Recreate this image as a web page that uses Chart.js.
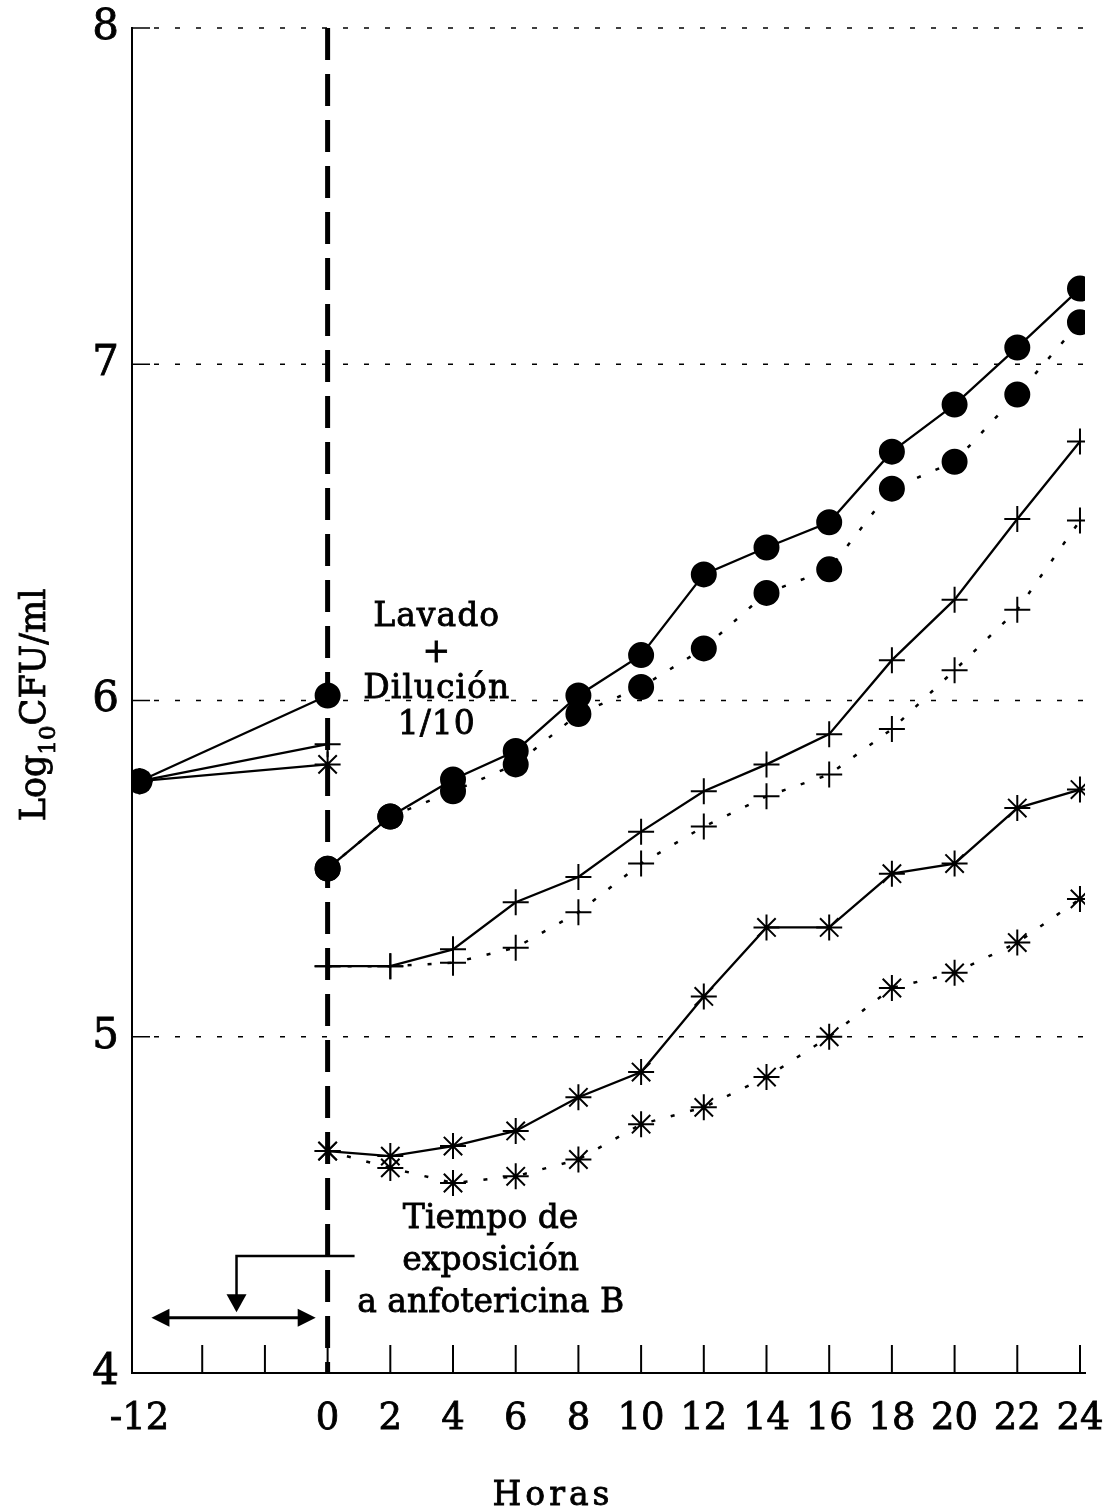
<!DOCTYPE html>
<html>
<head>
<meta charset="utf-8">
<script src="https://cdn.jsdelivr.net/npm/chart.js@4.4.0/dist/chart.umd.min.js"></script>
<style>
    html, body { margin: 0; padding: 0; background: #fff; }
</style>
</head>
<body>
<canvas id="chart" width="1108" height="1510"></canvas>
<script>
/* ==========================================================================
   資料
   ========================================================================== */

// x 軸刻度（-12 到 0 每格 4 小時，之後每格 2 小時）
const xTickLabels = ['-12', '', '', '0', '2', '4', '6', '8', '10', '12', '14', '16', '18', '20', '22', '24'];
const yTickValues = [4, 5, 6, 7, 8];
const yGridValues = [5, 6, 7, 8];

// 暴露期間（-12 到 0 小時）
const preHours = [-12, 0];
const circlePre = [5.76, 6.015];
const plusPre = [5.76, 5.87];
const starPre = [5.76, 5.81];

// 洗滌 + 稀釋之後（0 到 24 小時）
const postHours = [0, 2, 4, 6, 8, 10, 12, 14, 16, 18, 20, 22, 24];
const circleSolid = [5.50, 5.655, 5.765, 5.85, 6.015, 6.135, 6.375, 6.455, 6.53, 6.74, 6.88, 7.05, 7.225];
const circleDotted = [5.50, 5.655, 5.73, 5.81, 5.96, 6.04, 6.155, 6.32, 6.39, 6.63, 6.71, 6.91, 7.125];
const plusSolid = [5.21, 5.21, 5.26, 5.40, 5.475, 5.61, 5.73, 5.81, 5.90, 6.12, 6.30, 6.54, 6.77];
const plusDotted = [5.21, 5.21, 5.22, 5.265, 5.37, 5.515, 5.625, 5.715, 5.78, 5.915, 6.09, 6.27, 6.535];
const starSolid = [4.66, 4.645, 4.675, 4.72, 4.82, 4.895, 5.12, 5.325, 5.325, 5.485, 5.515, 5.68, 5.735];
const starDotted = [4.66, 4.61, 4.565, 4.585, 4.635, 4.74, 4.79, 4.88, 5.00, 5.145, 5.19, 5.28, 5.41];

// 註解文字
const noteWash = ['Lavado', '+', 'Dilución', '1/10'];
const noteExposure = ['Tiempo de', 'exposición', 'a anfotericina B'];

/* ==========================================================================
   工具函數
   ========================================================================== */

// 小時 -> x 軸位置（左段壓縮）
function hourToIndex(h) {
    return h < 0 ? (h + 12) / 4 : 3 + h / 2;
}

function toPoints(hours, values) {
    return hours.map((h, i) => ({ x: hourToIndex(h), y: values[i] }));
}

const SERIF = '"DejaVu Serif", "Liberation Serif", serif';

function lineSet(data, style, dotted) {
    return {
        data: data,
        borderColor: '#000',
        backgroundColor: '#000',
        borderWidth: dotted ? 2.5 : 2.3,
        borderDash: dotted ? [4, 16] : [],
        pointStyle: style,
        pointBorderColor: '#000',
        pointBackgroundColor: '#000',
        pointBorderWidth: 2,
        pointRadius: style === 'circle' ? 12 : 13,
        tension: 0,
        fill: false
    };
}

function arrowHead(ctx, tipX, tipY, dir) {
    const len = 18, half = 9;
    ctx.beginPath();
    ctx.moveTo(tipX, tipY);
    if (dir === 'down') {
        ctx.lineTo(tipX - half - 1, tipY - len);
        ctx.lineTo(tipX + half + 1, tipY - len);
    } else if (dir === 'left') {
        ctx.lineTo(tipX + len, tipY - half);
        ctx.lineTo(tipX + len, tipY + half);
    } else {
        ctx.lineTo(tipX - len, tipY - half);
        ctx.lineTo(tipX - len, tipY + half);
    }
    ctx.closePath();
    ctx.fill();
}

// 粗一點的文字（模擬掃描稿）
function boldText(ctx, text, x, y) {
    ctx.fillText(text, x, y);
    ctx.strokeText(text, x, y);
}

// 不讓刻度文字撐開圖表區
function noLabelPadding(s) {
    s.paddingTop = 0;
    s.paddingBottom = 0;
    s.paddingLeft = 0;
    s.paddingRight = 0;
}

/* ==========================================================================
   繪圖外掛：格線、虛線、註解
   ========================================================================== */

const overlay = {
    id: 'overlay',
    beforeDatasetsDraw(chart) {
        const { ctx, chartArea: a, scales: { x, y } } = chart;
        ctx.save();
        ctx.strokeStyle = '#000';

        // 點狀水平格線 + 內側刻度
        ctx.lineWidth = 1.5;
        yGridValues.forEach(v => {
            const py = y.getPixelForValue(v);
            ctx.setLineDash([]);
            ctx.beginPath();
            ctx.moveTo(a.left, py);
            ctx.lineTo(a.left + 18, py);
            ctx.stroke();
            ctx.setLineDash([5, 16]);
            ctx.beginPath();
            ctx.moveTo(a.left + 22, py);
            ctx.lineTo(a.right, py);
            ctx.stroke();
        });

        // x 軸向上的刻度
        ctx.setLineDash([]);
        ctx.lineWidth = 2;
        for (let i = 1; i < xTickLabels.length; i++) {
            const px = x.getPixelForValue(i);
            ctx.beginPath();
            ctx.moveTo(px, a.bottom);
            ctx.lineTo(px, a.bottom - 28);
            ctx.stroke();
        }

        // 0 小時的粗虛線
        const px0 = x.getPixelForValue(hourToIndex(0));
        ctx.lineWidth = 5;
        ctx.setLineDash([32, 14]);
        ctx.beginPath();
        ctx.moveTo(px0, a.top);
        ctx.lineTo(px0, a.bottom);
        ctx.stroke();
        ctx.restore();
    },
    afterDatasetsDraw(chart) {
        const { ctx, scales: { x, y } } = chart;
        ctx.save();
        ctx.fillStyle = '#000';
        ctx.strokeStyle = '#000';
        ctx.lineWidth = 0.8;
        ctx.textAlign = 'center';
        ctx.textBaseline = 'alphabetic';

        // Lavado + Dilución
        ctx.font = '33px ' + SERIF;
        ctx.letterSpacing = '1px';
        const wx = x.getPixelForValue(4.74);
        const wy = y.getPixelForValue(6.222);
        noteWash.forEach((t, i) => boldText(ctx, t, wx, wy + i * 36));

        // Tiempo de exposición
        ctx.letterSpacing = '0px';
        const ex = x.getPixelForValue(5.6);
        const ey = y.getPixelForValue(4.432);
        noteExposure.forEach((t, i) => boldText(ctx, t, ex, ey + i * 42));

        // 指向箭頭
        ctx.lineWidth = 2.5;
        const bx = x.getPixelForValue(1.547);
        const by = y.getPixelForValue(4.348);
        const tipY = y.getPixelForValue(4.181);
        ctx.beginPath();
        ctx.moveTo(x.getPixelForValue(3.43), by);
        ctx.lineTo(bx, by);
        ctx.lineTo(bx, tipY - 10);
        ctx.stroke();
        arrowHead(ctx, bx, tipY, 'down');

        // 雙向箭頭
        ctx.lineWidth = 3;
        const dy = y.getPixelForValue(4.164);
        const dl = x.getPixelForValue(0.19);
        const dr = x.getPixelForValue(2.81);
        ctx.beginPath();
        ctx.moveTo(dl + 10, dy);
        ctx.lineTo(dr - 10, dy);
        ctx.stroke();
        arrowHead(ctx, dl, dy, 'left');
        arrowHead(ctx, dr, dy, 'right');

        // x 軸標題
        ctx.lineWidth = 0.8;
        ctx.font = '33px ' + SERIF;
        ctx.letterSpacing = '4px';
        boldText(ctx, 'Horas', 553, 1505);

        // y 軸標題（含下標）
        ctx.letterSpacing = '0px';
        ctx.translate(45, 705);
        ctx.rotate(-Math.PI / 2);
        ctx.textAlign = 'left';
        const mainFont = '35px ' + SERIF;
        const subFont = '23px ' + SERIF;
        ctx.font = mainFont;
        const w1 = ctx.measureText('Log').width;
        const w3 = ctx.measureText('CFU/ml').width;
        ctx.font = subFont;
        const w2 = ctx.measureText('10').width;
        let cx = -(w1 + w2 + w3) / 2;
        ctx.font = mainFont;
        boldText(ctx, 'Log', cx, 0);
        cx += w1;
        ctx.font = subFont;
        boldText(ctx, '10', cx, 10);
        cx += w2;
        ctx.font = mainFont;
        boldText(ctx, 'CFU/ml', cx, 0);
        ctx.restore();
    }
};

/* ==========================================================================
   建立圖表
   ========================================================================== */

new Chart(document.getElementById('chart').getContext('2d'), {
    type: 'line',
    data: {
        datasets: [
            lineSet(toPoints(preHours, plusPre), 'cross', false),
            lineSet(toPoints(preHours, starPre), 'star', false),
            lineSet(toPoints(preHours, circlePre), 'circle', false),
            lineSet(toPoints(postHours, circleDotted), 'circle', true),
            lineSet(toPoints(postHours, circleSolid), 'circle', false),
            lineSet(toPoints(postHours, plusDotted), 'cross', true),
            lineSet(toPoints(postHours, plusSolid), 'cross', false),
            lineSet(toPoints(postHours, starDotted), 'star', true),
            lineSet(toPoints(postHours, starSolid), 'star', false)
        ]
    },
    options: {
        responsive: false,
        animation: false,
        layout: { padding: { top: 28, right: 23, left: 0, bottom: 0 } },
        plugins: {
            legend: { display: false },
            tooltip: { enabled: false }
        },
        scales: {
            x: {
                type: 'linear',
                min: -0.12,
                max: 15.08,
                grid: { display: false, drawTicks: false },
                border: { display: true, color: '#000', width: 2 },
                afterBuildTicks: s => { s.ticks = xTickLabels.map((_, i) => ({ value: i })); },
                afterFit: s => { s.height = 137; noLabelPadding(s); },
                ticks: {
                    autoSkip: false,
                    maxRotation: 0,
                    padding: 24,
                    color: '#000',
                    textStrokeColor: '#000',
                    textStrokeWidth: 0.8,
                    font: { family: SERIF, size: 37 },
                    callback: v => xTickLabels[v] ?? ''
                }
            },
            y: {
                type: 'linear',
                min: 4,
                max: 8,
                grid: { display: false, drawTicks: false },
                border: { display: true, color: '#000', width: 2 },
                afterBuildTicks: s => { s.ticks = yTickValues.map(v => ({ value: v })); },
                afterFit: s => { s.width = 132; noLabelPadding(s); },
                ticks: {
                    padding: 13,
                    color: '#000',
                    textStrokeColor: '#000',
                    textStrokeWidth: 0.8,
                    font: { family: SERIF, size: 42 },
                    callback: v => String(v)
                }
            }
        }
    },
    plugins: [overlay]
});
</script>
</body>
</html>
